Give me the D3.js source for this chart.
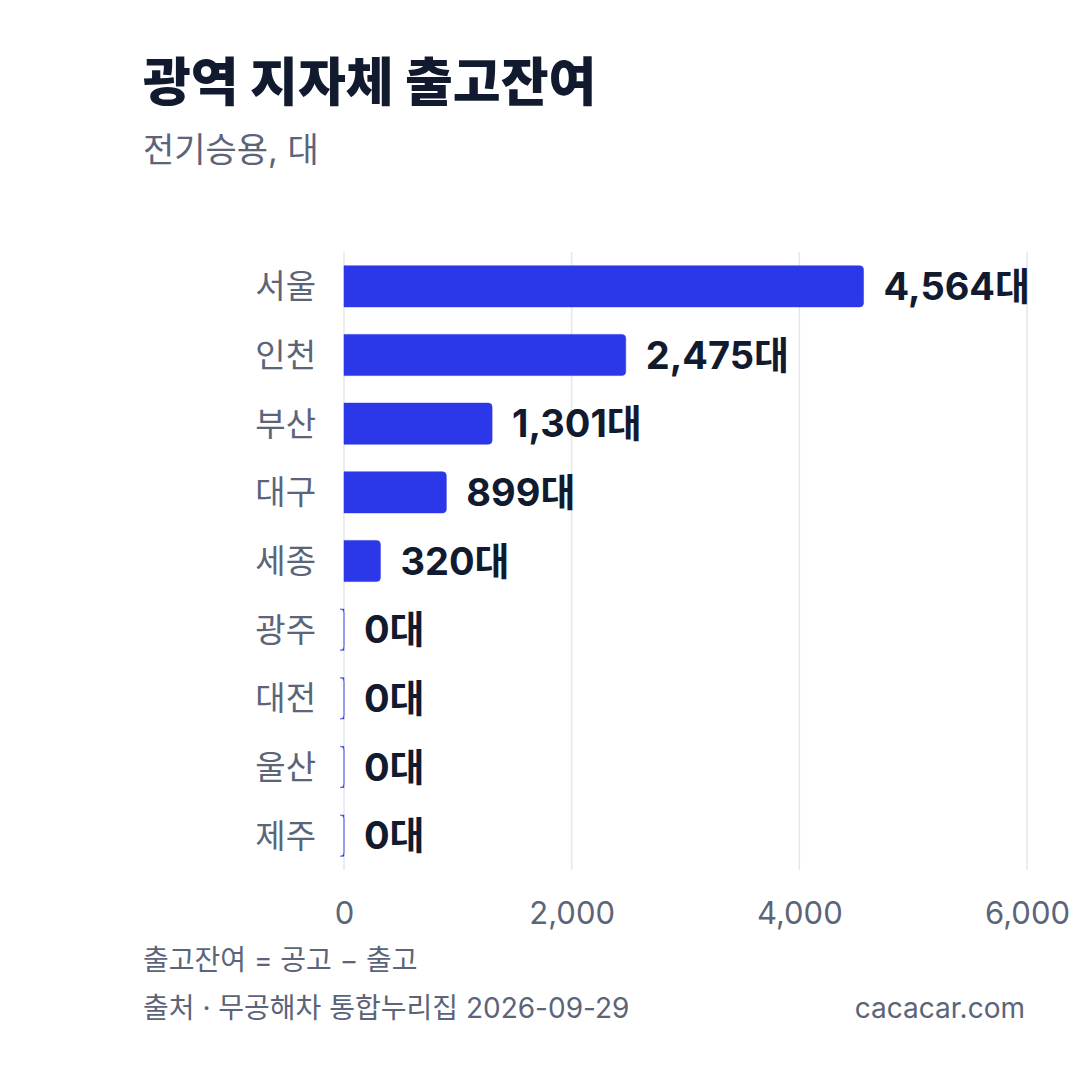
<!DOCTYPE html>
<html><head><meta charset="utf-8">
<script src="https://cdn.jsdelivr.net/npm/d3@7"></script>
<style>
html,body{margin:0;padding:0;background:#fff;}
svg text{font-family:Inter,"Noto Sans CJK KR",sans-serif;}
</style></head>
<body><svg id="c" width="1080" height="1080"></svg>
<script>
const categories = ["서울","인천","부산","대구","세종","광주","대전","울산","제주"];
const values = [4564,2475,1301,899,320,0,0,0,0];
const tickValues = [0,2000,4000,6000];
const title = "광역 지자체 출고잔여";
const subtitle = "전기승용, 대";
const note = "출고잔여 = 공고 − 출고";
const source = "출처 · 무공해차 통합누리집 2026-09-29";
const brand = "cacacar.com";

const svg = d3.select("#c");
const x = d3.scaleLinear().domain([0,6000]).range([344,1027]);
const y = d3.scaleBand().domain(categories).range([252,870]).paddingInner(0.4).paddingOuter(0.2);

svg.append("text").attr("x",143).attr("y",101).attr("font-size",52).attr("font-weight",800).attr("fill","#111a2e").text(title);
svg.append("text").attr("x",143).attr("y",162).attr("font-size",34).attr("fill","#5b6478").text(subtitle);

// grid
svg.append("g").selectAll("line").data(tickValues).join("line")
  .attr("x1",d=>x(d)).attr("x2",d=>x(d)).attr("y1",252).attr("y2",870)
  .attr("stroke","#e5e7ee").attr("stroke-width",1.5);

// axis labels
const axis = svg.append("g").attr("transform","translate(0,870)")
  .call(d3.axisBottom(x).tickValues(tickValues).tickFormat(d3.format(",")).tickSize(0).tickPadding(32));
axis.select(".domain").remove();
axis.selectAll("text").attr("font-size",31).attr("fill","#5b6478").attr("font-family",'Inter,"Noto Sans CJK KR",sans-serif');

// bars
const r = 4;
function barPath(d,i){
  const x0 = x(0), x1 = x(d), y0 = y(categories[i]), y1 = y0 + y.bandwidth();
  return `M${x0},${y0}H${x1-r}Q${x1},${y0} ${x1},${y0+r}V${y1-r}Q${x1},${y1} ${x1-r},${y1}H${x0}Z`;
}
svg.append("g").selectAll("path").data(values).join("path")
  .attr("d",barPath).attr("fill","#2b37e8").attr("stroke","#2b37e8").attr("stroke-width",0.5);

// category labels
svg.append("g").selectAll("text").data(categories).join("text")
  .attr("x",316).attr("y",d=>y(d)+y.bandwidth()/2).attr("dy","0.36em")
  .attr("text-anchor","end").attr("font-size",33).attr("fill","#5b6478").text(d=>d);

// value labels
svg.append("g").selectAll("text").data(values).join("text")
  .attr("x",d=>x(d)+20).attr("y",(d,i)=>y(categories[i])+y.bandwidth()/2).attr("dy","0.36em")
  .attr("font-size",38).attr("font-weight",700).attr("fill","#111a2e")
  .text(d=>d3.format(",")(d)+"대");

svg.append("text").attr("x",143).attr("y",970).attr("font-size",28).attr("fill","#5b6478").text(note);
svg.append("text").attr("x",143).attr("y",1018).attr("font-size",28).attr("fill","#5b6478").text(source);
svg.append("text").attr("x",1025).attr("y",1018).attr("text-anchor","end").attr("font-size",28).attr("fill","#5b6478").text(brand);
</script></body></html>
